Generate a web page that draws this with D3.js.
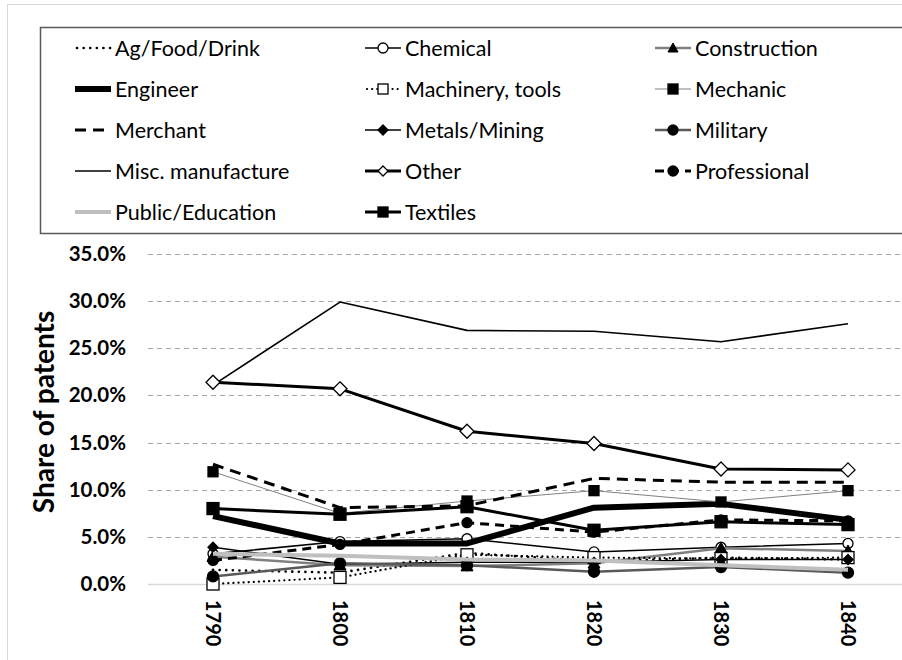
<!DOCTYPE html>
<html lang="en">
  <head>
    <meta charset="utf-8">
    <title>Share of patents</title>
    <script src="https://d3js.org/d3.v7.min.js"></script>
    <style>
      body { margin: 0; background: #fff; }
      svg text { font-family: Lato, "Open Sans", sans-serif; }
    </style>
  </head>
  <body>
    <div id="chart"></div>
    <script type="text/javascript">
      // dados
      var anos = ["1790", "1800", "1810", "1820", "1830", "1840"];
      var categorias = ["Ag/Food/Drink", "Chemical", "Construction", "Engineer", "Machinery, tools",
                        "Mechanic", "Merchant", "Metals/Mining", "Military", "Misc. manufacture",
                        "Other", "Professional", "Public/Education", "Textiles"];
      var agFood      = [1.5, 1.2, 3.3, 2.4, 2.8, 2.6];
      var chemical    = [3.2, 4.5, 4.8, 3.4, 3.9, 4.3];
      var construcao  = [2.9, 2.0, 1.9, 2.2, 3.8, 3.5];
      var engineer    = [7.2, 4.3, 4.3, 8.1, 8.5, 6.8];
      var machinery   = [0.0, 0.7, 3.1, 2.8, 2.7, 2.8];
      var mechanic    = [11.9, 7.5, 8.8, 9.9, 8.7, 9.9];
      var merchant    = [12.7, 8.1, 8.3, 11.2, 10.8, 10.8];
      var metals      = [3.9, 2.1, 2.3, 2.3, 2.6, 2.6];
      var military    = [0.8, 2.2, 2.0, 1.3, 1.8, 1.2];
      var misc        = [21.1, 29.9, 26.9, 26.8, 25.7, 27.6];
      var other       = [21.4, 20.7, 16.2, 14.9, 12.2, 12.1];
      var professional= [2.5, 4.2, 6.5, 5.5, 6.8, 6.7];
      var publico     = [3.2, 3.0, 2.6, 2.5, 2.0, 1.5];
      var textiles    = [8.0, 7.4, 8.2, 5.7, 6.6, 6.3];
      var yTicks = [0, 5, 10, 15, 20, 25, 30, 35];

      var valores = [agFood, chemical, construcao, engineer, machinery, mechanic, merchant,
                     metals, military, misc, other, professional, publico, textiles];

      // estilo de cada série
      var estilos = [
        {cor: "#000", w: 2.6, dash: "0.1,6.5", cap: "round", m: null},
        {cor: "#000", w: 1.5, dash: null, m: "circle", fill: "#fff", size: 5},
        {cor: "#808080", w: 2.5, dash: null, m: "triangle", fill: "#000", size: 6},
        {cor: "#000", w: 6, dash: null, m: null},
        {cor: "#000", w: 2.2, dash: "0.1,5", cap: "round", m: "square", fill: "#fff", size: 6},
        {cor: "#808080", w: 1, dash: null, m: "square", fill: "#000", size: 5},
        {cor: "#000", w: 3, dash: "11,7", m: null},
        {cor: "#000", w: 1.5, dash: null, m: "diamond", fill: "#000", size: 5},
        {cor: "#595959", w: 2.5, dash: null, m: "circle", fill: "#000", size: 5.5},
        {cor: "#000", w: 1.6, dash: null, m: null},
        {cor: "#000", w: 3, dash: null, m: "diamond", fill: "#fff", size: 7},
        {cor: "#000", w: 3, dash: "9,6", m: "circle", fill: "#000", size: 5},
        {cor: "#bfbfbf", w: 4, dash: null, m: null},
        {cor: "#000", w: 3, dash: null, m: "square", fill: "#000", size: 6}
      ];

      var largura = 902, altura = 660;
      var svg = d3.select("#chart").append("svg")
                  .attr("width", largura).attr("height", altura);

      // borda externa do gráfico
      svg.append("rect").attr("x", 7.5).attr("y", 4.5)
         .attr("width", largura).attr("height", altura)
         .attr("fill", "none").attr("stroke", "#d9d9d9");

      var x = d3.scalePoint().domain(anos).range([213, 848]);
      var y = d3.scaleLinear().domain([0, 35]).range([584, 254]);

      // grade
      svg.append("g").selectAll("line")
        .data(yTicks.filter(d => d > 0))
        .join("line")
          .attr("x1", 148).attr("x2", 902)
          .attr("y1", d => Math.round(y(d)) + 0.5).attr("y2", d => Math.round(y(d)) + 0.5)
          .attr("stroke", "#a6a6a6").attr("stroke-width", 1)
          .attr("stroke-dasharray", "5,4");

      svg.append("line")
        .attr("x1", 148).attr("x2", 902)
        .attr("y1", Math.round(y(0)) + 0.5).attr("y2", Math.round(y(0)) + 0.5)
        .attr("stroke", "#d9d9d9").attr("stroke-width", 1.5);

      // eixo y
      svg.append("g").selectAll("text")
        .data(yTicks)
        .join("text")
          .attr("x", 126).attr("y", d => y(d) + 7)
          .attr("text-anchor", "end")
          .attr("font-size", 20.5).attr("font-weight", "bold")
          .text(d => d.toFixed(1) + "%");

      svg.append("text")
        .attr("transform", "translate(54,412) rotate(-90)")
        .attr("text-anchor", "middle")
        .attr("font-size", 28).attr("font-weight", "bold")
        .text("Share of patents");

      // eixo x (rotacionado)
      svg.append("g").selectAll("text")
        .data(anos)
        .join("text")
          .attr("transform", d => "translate(" + (x(d) - 7) + ",600) rotate(90)")
          .attr("font-size", 20).attr("font-weight", "bold")
          .text(d => d);

      function marcador(g, tipo, fill, s, cx, cy) {
        if (tipo === "circle") {
          g.append("circle").attr("cx", cx).attr("cy", cy).attr("r", s)
           .attr("fill", fill).attr("stroke", "#000").attr("stroke-width", 1.3);
        } else if (tipo === "square") {
          g.append("rect").attr("x", cx - s).attr("y", cy - s)
           .attr("width", 2 * s).attr("height", 2 * s)
           .attr("fill", fill).attr("stroke", "#000").attr("stroke-width", 1.3);
        } else if (tipo === "diamond") {
          g.append("path")
           .attr("d", "M" + cx + "," + (cy - s) + "L" + (cx + s) + "," + cy + "L" + cx + "," + (cy + s) + "L" + (cx - s) + "," + cy + "Z")
           .attr("fill", fill).attr("stroke", "#000").attr("stroke-width", 1.3);
        } else if (tipo === "triangle") {
          g.append("path")
           .attr("d", "M" + cx + "," + (cy - s) + "L" + (cx + s) + "," + (cy + s * 0.8) + "L" + (cx - s) + "," + (cy + s * 0.8) + "Z")
           .attr("fill", fill).attr("stroke", "#000").attr("stroke-width", 1);
        }
      }

      var linha = d3.line().x((d, i) => x(anos[i])).y(d => y(d));

      // séries
      var gSeries = svg.append("g");
      valores.forEach(function(vals, k) {
        var e = estilos[k];
        var g = gSeries.append("g");
        g.append("path")
          .attr("d", linha(vals))
          .attr("fill", "none")
          .attr("stroke", e.cor)
          .attr("stroke-width", e.w)
          .attr("stroke-linecap", e.cap || "butt")
          .attr("stroke-linejoin", "round")
          .attr("stroke-dasharray", e.dash);
        if (e.m) {
          vals.forEach((v, i) => marcador(g, e.m, e.fill, e.size, x(anos[i]), y(v)));
        }
      });

      // legenda
      svg.append("rect").attr("x", 40.5).attr("y", 27.5)
         .attr("width", 880).attr("height", 206)
         .attr("fill", "none").attr("stroke", "#595959").attr("stroke-width", 1.5);

      var colX = [75, 365, 655];
      var rowY = [48, 89, 130, 171, 212];
      categorias.forEach(function(nome, k) {
        var e = estilos[k];
        var lx = colX[k % 3], ly = rowY[Math.floor(k / 3)];
        var g = svg.append("g");
        g.append("line")
          .attr("x1", lx + (e.cap ? 2 : 0)).attr("x2", lx + 36)
          .attr("y1", ly).attr("y2", ly)
          .attr("stroke", e.cor).attr("stroke-width", e.w)
          .attr("stroke-linecap", e.cap || "butt")
          .attr("stroke-dasharray", e.dash);
        if (e.m) marcador(g, e.m, e.fill, Math.min(e.size, 5), lx + 18, ly);
        g.append("text")
          .attr("x", lx + 40).attr("y", ly + 7.5)
          .attr("font-size", 21.5)
          .text(nome);
      });
    </script>
  </body>
</html>
